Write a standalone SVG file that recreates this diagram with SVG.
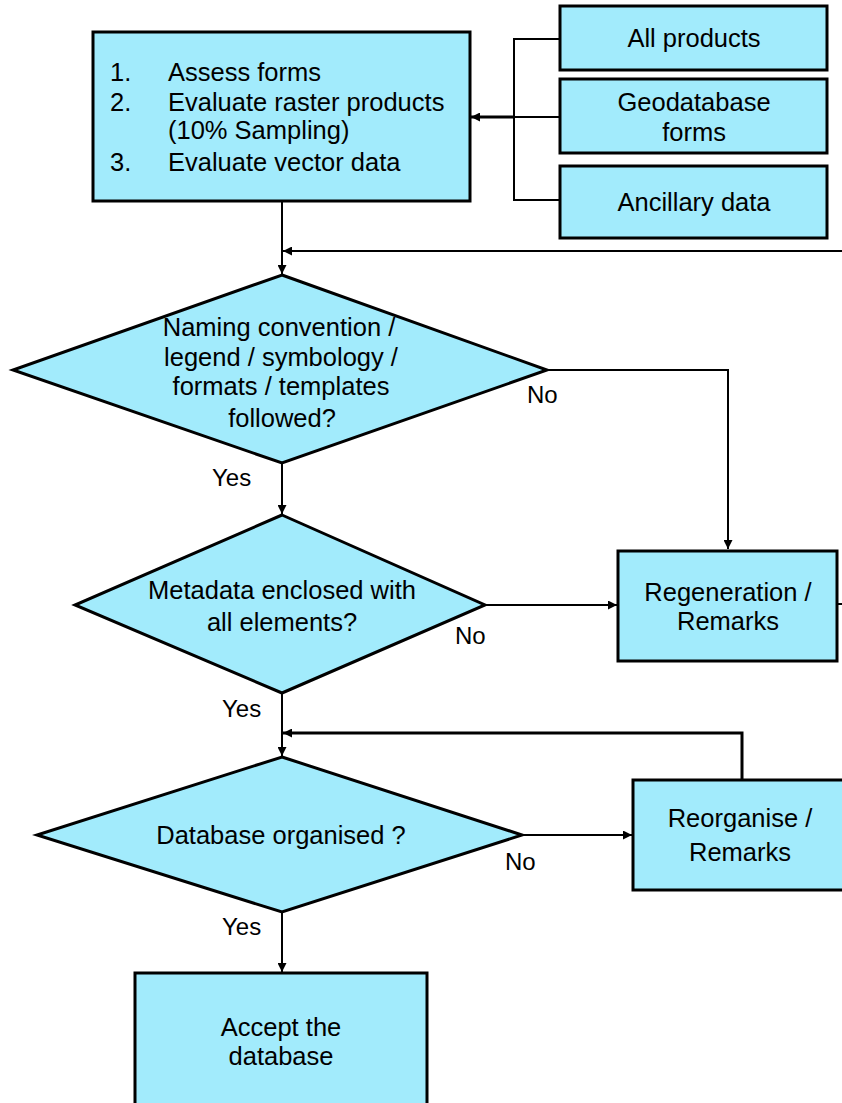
<svg xmlns="http://www.w3.org/2000/svg" width="842" height="1103" viewBox="0 0 842 1103">
<style>
.n{fill:#a2ebfc;stroke:#000;stroke-width:3}
.t{font-family:"Liberation Sans",Arial,sans-serif;font-size:25.5px;fill:#000;text-anchor:middle;dominant-baseline:central}
.tl{font-family:"Liberation Sans",Arial,sans-serif;font-size:25.5px;fill:#000;dominant-baseline:central}
.lb{font-family:"Liberation Sans",Arial,sans-serif;font-size:24px;fill:#000}
.c{fill:none;stroke:#000;stroke-width:2}
.c3{fill:none;stroke:#000;stroke-width:3}
</style>
<defs>
<marker id="a" viewBox="0 0 10 10" refX="10" refY="5" markerWidth="10" markerHeight="9" markerUnits="userSpaceOnUse" orient="auto">
<path d="M0,0 L10,5 L0,10 z" fill="#000"/>
</marker>
</defs>
<rect width="842" height="1103" fill="#fff"/>
<g id="connectors">
<polyline class="c" points="560,39 514,39 514,200 560,200"/>
<line class="c" x1="560" y1="117" x2="514" y2="117"/>
<line class="c3" x1="514" y1="117" x2="471" y2="117" marker-end="url(#a)"/>
<line class="c" x1="282" y1="201" x2="282" y2="274" marker-end="url(#a)"/>
<line class="c" x1="842" y1="251" x2="283" y2="251" marker-end="url(#a)"/>
<polyline class="c" points="547,370 728,370 728,549" marker-end="url(#a)"/>
<line class="c" x1="282" y1="463" x2="282" y2="514" marker-end="url(#a)"/>
<line class="c" x1="485" y1="605" x2="617" y2="605" marker-end="url(#a)"/>
<line class="c" x1="837" y1="604" x2="842" y2="604"/>
<line class="c" x1="282" y1="693" x2="282" y2="756" marker-end="url(#a)"/>
<polyline class="c3" points="742,780 742,733 283,733" marker-end="url(#a)"/>
<line class="c" x1="522" y1="835" x2="632" y2="835" marker-end="url(#a)"/>
<line class="c" x1="282" y1="912" x2="282" y2="972" marker-end="url(#a)"/>
</g>
<g id="assess">
<rect class="n" x="93" y="32" width="377" height="169"/>
<text class="tl" x="110" y="72">1.</text>
<text class="tl" x="168" y="72">Assess forms</text>
<text class="tl" x="110" y="102">2.</text>
<text class="tl" x="168" y="102">Evaluate raster products</text>
<text class="tl" x="168" y="130">(10% Sampling)</text>
<text class="tl" x="110" y="162">3.</text>
<text class="tl" x="168" y="162">Evaluate vector data</text>
</g>
<g id="allproducts">
<rect class="n" x="560" y="6" width="267" height="64"/>
<text class="t" x="694" y="38">All products</text>
</g>
<g id="geodatabase">
<rect class="n" x="560" y="79" width="267" height="74"/>
<text class="t" x="694" y="102">Geodatabase</text>
<text class="t" x="694" y="132">forms</text>
</g>
<g id="ancillary">
<rect class="n" x="560" y="166" width="267" height="72"/>
<text class="t" x="694" y="202">Ancillary data</text>
</g>
<g id="naming">
<polygon class="n" points="282,275 547,370 282,463 13,370"/>
<text class="t" x="279" y="327">Naming convention /</text>
<text class="t" x="281" y="357">legend / symbology /</text>
<text class="t" x="281" y="386">formats / templates</text>
<text class="t" x="282" y="418">followed?</text>
</g>
<text class="lb" x="527" y="403">No</text>
<text class="lb" x="212" y="486">Yes</text>
<g id="metadata">
<polygon class="n" points="282,515 485,605 282,693 75,605"/>
<text class="t" x="282" y="590">Metadata enclosed with</text>
<text class="t" x="282" y="622">all elements?</text>
</g>
<text class="lb" x="455" y="644">No</text>
<text class="lb" x="222" y="717">Yes</text>
<g id="regeneration">
<rect class="n" x="618" y="551" width="219" height="110"/>
<text class="t" x="728" y="592">Regeneration /</text>
<text class="t" x="728" y="621">Remarks</text>
</g>
<g id="organised">
<polygon class="n" points="282,757 522,835 282,912 37,835"/>
<text class="t" x="281" y="835">Database organised ?</text>
</g>
<text class="lb" x="505" y="870">No</text>
<text class="lb" x="222" y="935">Yes</text>
<g id="reorganise">
<rect class="n" x="633" y="780" width="215" height="110"/>
<text class="t" x="740" y="818">Reorganise /</text>
<text class="t" x="740" y="852">Remarks</text>
</g>
<g id="accept">
<rect class="n" x="135" y="973" width="292" height="140"/>
<text class="t" x="281" y="1027">Accept the</text>
<text class="t" x="281" y="1056">database</text>
</g>
</svg>
